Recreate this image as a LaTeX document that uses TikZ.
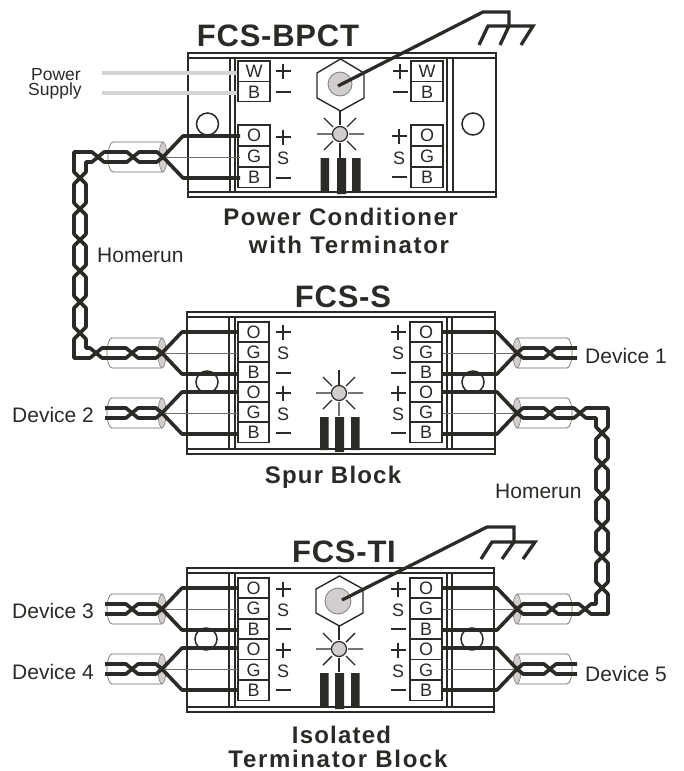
\documentclass[tikz,border=0pt]{standalone}
\usepackage{fontspec}
\setmainfont{Liberation Sans}
\definecolor{ink}{HTML}{2B2A26}
\definecolor{greyfill}{HTML}{D2CECE}
\definecolor{supply}{HTML}{D8D3D3}
\definecolor{thinline}{HTML}{6F6E6A}
\newcommand{\fsz}[1]{\fontsize{#1}{#1}\selectfont}
\newcommand{\ttl}[3]{\fontsize{#1}{#1}\selectfont\bfseries\addfontfeature{LetterSpace=#2}#3}
\newcounter{tc}
\tikzset{
  frameline/.style={draw=ink,line width=1.5pt},
  wire/.style={draw=ink,line width=3.6pt,line join=round},
  cellbox/.style={draw=ink,line width=1.4pt,fill=white},
  thinwire/.style={draw=thinline,line width=0.7pt},
  rayline/.style={draw=ink,line width=1.4pt},
  signline/.style={draw=ink,line width=1.8pt},
  gndline/.style={draw=ink,line width=3.3pt,line join=miter},
  termtxt/.style={inner sep=0pt,text=ink,font=\fsz{18}},
  lbl/.style={inner sep=0pt,anchor=base west,text=ink,font=\fsz{21}},
  head/.style={inner sep=0pt,anchor=base,text=ink},
}
% frame: xl xr ytop ybot vl1 vl2 vr1 vr2
\newcommand{\blockframe}[8]{
  \draw[frameline] (#1,#3) rectangle (#2,#4);
  \draw[frameline] (#1,#3+5) -- (#2,#3+5) (#1,#4-5) -- (#2,#4-5);
  \draw[frameline] (#5,#3+5) -- (#5,#4-5) (#6,#3+5) -- (#6,#4-5);
  \draw[frameline] (#7,#3+5) -- (#7,#4-5) (#8,#3+5) -- (#8,#4-5);
}
% terminal cell: x1 x2 ytop letter
\newcommand{\cell}[4]{
  \stepcounter{tc}
  \draw[cellbox] (#1,#3) rectangle (#2,#3+20.3);
  \node[termtxt] (t\thetc) at ({(#1+#2)/2},#3+10.6) {#4};
}
\newcommand{\plusm}[2]{\draw[signline] (#1-7.5,#2) -- (#1+7.5,#2) (#1,#2-7.5) -- (#1,#2+7.5);}
\newcommand{\minusm}[2]{\draw[signline] (#1-7.5,#2) -- (#1+7.5,#2);}
\newcommand{\ess}[2]{\stepcounter{tc}\node[termtxt] (s\thetc) at (#1,#2) {S};}
% six signs: x y+ yS y-
\newcommand{\oss}[4]{\plusm{#1}{#2}\ess{#1}{#3}\minusm{#1}{#4}}
% twisted segment in local coordinates
\newcommand{\hseg}[2]{
  \draw[wire] (#1,0) -- (#1+6,-5) -- (#2-6,-5) -- (#2,0);
  \draw[wire] (#1,0) -- (#1+6,5) -- (#2-6,5) -- (#2,0);
}
\newcommand{\vseg}[3]{
  \draw[wire] (#1,#2) -- (#1-6,#2+6) -- (#1-6,#3-6) -- (#1,#3);
  \draw[wire] (#1,#2) -- (#1+6,#2+6) -- (#1+6,#3-6) -- (#1,#3);
}
% cable base: x y dir reach
\newcommand{\cablebase}[4]{
  \begin{scope}[shift={(#1,#2)},xscale=#3]
    \draw[thinwire] (0,0) -- (-#4,0);
    \draw[thinwire] (0,-15) -- (50,-15) arc[start angle=-90,end angle=90,x radius=5,y radius=15] -- (0,15);
    \draw[draw=thinline,line width=0.5pt,fill=greyfill] (0,0) ellipse[x radius=4,y radius=15];
    \draw[wire] (-#4,-21) -- (-20,-21) -- (0,0) -- (-20,21) -- (-#4,21);
  \end{scope}
}
% device cable: x y dir reach cross end
\newcommand{\cabled}[6]{
  \cablebase{#1}{#2}{#3}{#4}
  \begin{scope}[shift={(#1,#2)},xscale=#3]
    \hseg{0}{#5}
    \draw[wire] (#5,0) -- (#5+6,-5) -- (#6,-5);
    \draw[wire] (#5,0) -- (#5+6,5) -- (#6,5);
  \end{scope}
}
% homerun cable: x y dir reach cross1 cross2
\newcommand{\cableh}[6]{
  \cablebase{#1}{#2}{#3}{#4}
  \begin{scope}[shift={(#1,#2)},xscale=#3]
    \hseg{0}{#5}
    \hseg{#5}{#6}
  \end{scope}
}
% indicator: cx cy bars-top bars-bottom x1 x2 x3 
\newcommand{\indlamp}[7]{
  \draw[rayline] (#1-23,#2) -- (#1-8,#2) (#1+9,#2) -- (#1+24,#2)
    (#1,#2+9) -- (#1,#2+23)
    (#1-7,#2-7) -- (#1-16,#2-16) (#1+7,#2-7) -- (#1+16,#2-16)
    (#1-7,#2+7) -- (#1-16,#2+16) (#1+7,#2+7) -- (#1+16,#2+16);
  \draw[draw=ink,line width=1.2pt,fill=greyfill] (#1,#2) circle[radius=7.5];
  \fill[ink] (#5,#3) rectangle (#5+8.5,#4) (#6,#3) rectangle (#6+9,#4+2) (#7,#3) rectangle (#7+8.5,#4);
}
\begin{document}
\begin{tikzpicture}[x=1pt,y=-1pt]
\useasboundingbox (0,0) rectangle (683,771);
\fill[white] (0,0) rectangle (683,771);

%% ---------- FCS-BPCT
\blockframe{188}{496}{53}{197}{230}{235}{447}{453}
\draw[frameline] (207.5,124) circle[radius=11];
\draw[frameline] (473,124) circle[radius=11];
\draw[supply,line width=4pt] (102,73) -- (238,73) (102,93) -- (238,93);
\cell{238}{270}{61}{W}\cell{238}{270}{81.3}{B}
\cell{238}{270}{125}{O}\cell{238}{270}{146}{G}\cell{238}{270}{167}{B}
\cell{411}{443}{61}{W}\cell{411}{443}{81.3}{B}
\cell{411}{443}{125}{O}\cell{411}{443}{146}{G}\cell{411}{443}{167}{B}
\plusm{283}{71}\minusm{283}{92}\oss{283}{137}{158}{178}
\plusm{400}{71}\minusm{400}{92}\oss{399}{136}{158}{177}
\draw[draw=ink,line width=1.4pt] (340.5,59) -- (364,73) -- (364,98) -- (340.5,111) -- (317,98) -- (317,73) -- cycle;
\draw[rayline] (340,111) -- (340,125) (340,143) -- (340,158);
\draw[draw=ink!60,line width=0.8pt,fill=greyfill] (340,84) circle[radius=12];
\indlamp{340}{134}{158}{192}{320.5}{337}{352}
\draw[gndline] (338,86) -- (483,12) -- (509,12) -- (509,26);
\draw[gndline] (479,45) -- (488,26) -- (533,26) -- (521,45) (500,45) -- (509,26);

%% ---------- FCS-S
\blockframe{187}{495}{312}{454}{229}{235}{447}{452}
\draw[frameline] (207,382) circle[radius=11];
\draw[frameline] (473,382) circle[radius=11];
\cell{238}{269}{322}{O}\cell{238}{269}{342}{G}\cell{238}{269}{362}{B}
\cell{238}{269}{382}{O}\cell{238}{269}{402}{G}\cell{238}{269}{422}{B}
\cell{410}{442}{322}{O}\cell{410}{442}{342}{G}\cell{410}{442}{362}{B}
\cell{410}{442}{382}{O}\cell{410}{442}{402}{G}\cell{410}{442}{422}{B}
\oss{283}{332}{353}{373}\oss{283}{393}{414}{433}
\oss{398}{332}{353}{373}\oss{398}{393}{414}{433}
\draw[rayline] (339,370) -- (339,385);
\indlamp{339}{393}{417}{450}{320}{335}{351}

%% ---------- FCS-TI
\blockframe{187}{494}{568}{712}{229}{235}{447}{452}
\draw[frameline] (206,639) circle[radius=11];
\draw[frameline] (472,639) circle[radius=11];
\cell{238}{269}{578}{O}\cell{238}{269}{598}{G}\cell{238}{269}{619}{B}
\cell{238}{269}{639}{O}\cell{238}{269}{659.5}{G}\cell{238}{269}{680}{B}
\cell{410}{442}{578}{O}\cell{410}{442}{598}{G}\cell{410}{442}{619}{B}
\cell{410}{442}{639}{O}\cell{410}{442}{659.5}{G}\cell{410}{442}{680}{B}
\oss{283}{589}{610}{629}\oss{283}{650}{671}{690}
\oss{398}{589}{610}{629}\oss{398}{650}{671}{690}
\draw[draw=ink,line width=1.4pt] (339.5,576) -- (363,589) -- (363,613) -- (339.5,626) -- (316,613) -- (316,589) -- cycle;
\draw[rayline] (339,626) -- (339,640) (339,658) -- (339,672);
\draw[draw=ink!60,line width=0.8pt,fill=greyfill] (338,601) circle[radius=13];
\indlamp{339}{649}{673}{707}{320}{335}{351}
\draw[gndline] (342,600) -- (487,527) -- (514,527) -- (514,542);
\draw[gndline] (481,559) -- (492,542) -- (535,542) -- (523,559) (502,559) -- (514,542);

%% ---------- cables
\cableh{163}{157}{-1}{77}{30}{65}
\cableh{162}{353}{-1}{76}{30}{66}
\cabled{162}{413}{-1}{76}{30}{57}
\cabled{162}{609}{-1}{76}{30}{57}
\cabled{162}{669}{-1}{76}{30}{57}
\cabled{517}{353}{1}{74}{33}{60}
\cableh{517}{413}{1}{74}{33}{63}
\cableh{517}{609}{1}{74}{35}{68}
\cabled{517}{669}{1}{74}{33}{60}

%% ---------- left homerun
\draw[wire] (98,157) -- (92,152) -- (74,152) -- (74,172) -- (80,178);
\draw[wire] (98,157) -- (92,162) -- (86,162) -- (86,172) -- (80,178);
\foreach \a/\b in {178/209,209/240,240/271,271/302,302/333}{\vseg{80}{\a}{\b}}
\draw[wire] (80,333) -- (74,339) -- (74,358) -- (90,358) -- (96,353);
\draw[wire] (80,333) -- (86,339) -- (86,348) -- (90,348) -- (96,353);

%% ---------- right homerun
\draw[wire] (580,413) -- (586,408) -- (608,408) -- (608,427) -- (602,433);
\draw[wire] (580,413) -- (586,418) -- (596,418) -- (596,427) -- (602,433);
\foreach \a/\b in {433/464,464/495,495/526,526/557,557/588}{\vseg{602}{\a}{\b}}
\draw[wire] (602,588) -- (608,594) -- (608,614) -- (591,614) -- (585,609);
\draw[wire] (602,588) -- (596,594) -- (596,604) -- (591,604) -- (585,609);

%% ---------- labels
\node[head] (title1) at (278,46) {\ttl{31}{2.5}{FCS-BPCT}};
\node[head] (title2) at (343,307) {\ttl{31}{2.5}{FCS-S}};
\node[head] (title3) at (344,562) {\ttl{31}{2.5}{FCS-TI}};
\node[head] (cap1a) at (340.5,225) {\ttl{24}{5.8}{Power Conditioner}};
\node[head] (cap1b) at (349,253) {\ttl{24}{7}{with Terminator}};
\node[head] (cap2) at (333,483) {\ttl{24}{5}{Spur Block}};
\node[head] (cap3a) at (341.5,743) {\ttl{24}{5}{Isolated}};
\node[head] (cap3b) at (338,767) {\ttl{24}{7}{Terminator Block}};
\node[head,font=\fsz{17.5}] (ps1) at (56,80.5) {Power};
\node[head,font=\fsz{17.5}] (ps2) at (55,95.5) {Supply};
\node[lbl] (hr1) at (97,262) {Homerun};
\node[lbl] (hr2) at (495,498) {Homerun};
\node[lbl] (d1) at (585,363) {Device 1};
\node[lbl] (d2) at (12,422) {Device 2};
\node[lbl] (d3) at (12,618) {Device 3};
\node[lbl] (d4) at (12,679) {Device 4};
\node[lbl] (d5) at (585,681) {Device 5};
\end{tikzpicture}
\end{document}
